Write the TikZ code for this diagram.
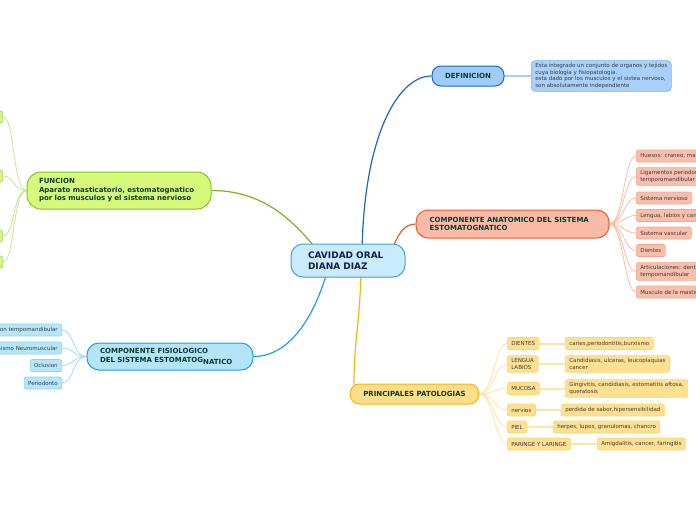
\documentclass[tikz,border=0pt]{standalone}
\usepackage{fontspec}
\setmainfont{DejaVu Sans}
\usetikzlibrary{positioning,backgrounds}
\definecolor{cavFill}{HTML}{C9EBFB}
\definecolor{cavLine}{HTML}{3FA3DC}
\definecolor{cavText}{HTML}{10204A}
\definecolor{topicText}{HTML}{0C3B2E}
\definecolor{leafText}{HTML}{3B3B3B}
\definecolor{defFill}{HTML}{9FCBF8}
\definecolor{defLine}{HTML}{1F63C9}
\definecolor{defBoxFill}{HTML}{A9D0FA}
\definecolor{defBoxLine}{HTML}{7DB3EF}
\definecolor{defTwig}{HTML}{A9CDF5}
\definecolor{anatFill}{HTML}{F9BBA7}
\definecolor{anatLine}{HTML}{F15A24}
\definecolor{anatLeaf}{HTML}{F9BFAC}
\definecolor{anatLeafLine}{HTML}{F7A488}
\definecolor{anatTwig}{HTML}{FBBBA5}
\definecolor{patoFill}{HTML}{FFDE8A}
\definecolor{patoLine}{HTML}{F5B60A}
\definecolor{patoLeaf}{HTML}{FFE091}
\definecolor{patoLeafLine}{HTML}{FFD46B}
\definecolor{patoTwig}{HTML}{FFE3A0}
\definecolor{funcFill}{HTML}{D6F97C}
\definecolor{funcLine}{HTML}{88C21E}
\definecolor{funcLink}{HTML}{7DB51B}
\definecolor{funcLeaf}{HTML}{D3F486}
\definecolor{funcTwig}{HTML}{C6E58F}
\definecolor{fisioFill}{HTML}{B2E4FA}
\definecolor{fisioLine}{HTML}{1BA1E2}
\definecolor{fisioLeaf}{HTML}{B6E6FA}
\definecolor{fisioLeafLine}{HTML}{8ED3F2}
\definecolor{fisioTwig}{HTML}{9FD9F3}

\begin{document}
\begin{tikzpicture}[x=1pt,y=-1pt,
  topic/.style={draw,line width=1pt,align=left,text=topicText,
    font=\fontsize{7}{8.5}\selectfont\bfseries,inner ysep=0pt},
  leaf/.style={draw,line width=0.6pt,rounded corners=2pt,align=left,text=leafText,
    font=\fontsize{5.5}{6.5}\selectfont,inner xsep=4pt,inner ysep=3pt,minimum height=12pt},
  link/.style={line width=1.2pt},
  twig/.style={line width=0.8pt}]
  \useasboundingbox (0,0) rectangle (696,520);
  \clip (0,0) rectangle (696,520);
  \node[topic,draw=cavLine,fill=cavFill,rounded corners=12pt,text=cavText,
    font=\fontsize{9}{11}\selectfont\bfseries,text width=80pt,inner xsep=17pt,
    minimum height=33pt] (cav) at (348,260.5) {CAVIDAD ORAL\\DIANA DIAZ};
  \node[topic,draw=defLine,fill=defFill,rounded corners=9pt,inner xsep=13pt,
    minimum height=20pt] (defn) at (468,76) {DEFINICION};
  \node[leaf,draw=defBoxLine,fill=defBoxFill,rounded corners=4pt,anchor=west] (deftxt) at (531,76)
    {Esta integrado un conjunto de organos y tejidos\\cuya biologia y fisiopatologia.\\esta dado por los musculos y el sistea nervoso,\\son absolutamente independiente};
  \node[topic,draw=anatLine,fill=anatFill,rounded corners=12pt,text width=166pt,inner xsep=13.5pt,
    minimum height=28pt] (anat) at (512.5,224) {COMPONENTE ANATOMICO DEL SISTEMA\\ESTOMATOGNATICO};
  \node[topic,draw=patoLine,fill=patoFill,rounded corners=9pt,inner xsep=13pt,
    minimum height=20pt] (pato) at (414.5,394) {PRINCIPALES PATOLOGIAS};
  \node[topic,draw=funcLine,fill=funcFill,rounded corners=14pt,text width=160pt,inner xsep=12pt,
    minimum height=37pt] (func) at (119,190.5) {FUNCION\\Aparato masticatorio, estomatognatico\\por los musculos y el sistema nervioso};
  \node[topic,draw=fisioLine,fill=fisioFill,rounded corners=12pt,text width=140pt,inner xsep=13pt,
    minimum height=27pt] (fisio) at (170,356.5) {COMPONENTE FISIOLOGICO\\DEL SISTEMA ESTOMATOG\raisebox{-2pt}{NATICO}};

  \foreach \yy/\txt [count=\i] in {156/{Huesos: craneo, mandibula},
      176.5/{Ligamentos periodontales y\\temporomandibular},198/{Sistema nervioso},
      215.5/{Lengua, labios y carrillos},233/{Sistema vascular},250.5/{Dientes},
      271.5/{Articulaciones: dentoalveolar y\\ tempomandibular},292/{Musculo de la masticacion}}{
    \node[leaf,draw=anatLeafLine,fill=anatLeaf,anchor=west] (a\i) at (636,\yy) {\txt};
  }
  \foreach \yy/\txt [count=\i] in {343.5/DIENTES,364/{LENGUA\\LABIOS},388.5/MUCOSA,
      410/nervios,427/PIEL,444/{PARINGE Y LARINGE}}{
    \node[leaf,draw=patoLeafLine,fill=patoLeaf,anchor=west] (p\i) at (507,\yy) {\txt};
  }
  \foreach \xx/\yy/\txt [count=\i] in {565/343.5/{caries,periodontitis,burxismo},
      565/364/{Candidiasis, ulceras, leucoplaquias\\cancer},
      565/388.5/{Gingivitis, candidiasis, estomatitis aftosa,\\queratosis},
      561/410/{perdida de sabor,hipersensibilidad},553/427/{herpes, lupos, granulomas, chancro},
      597/444/{Amigdalitis, cancer, faringitis}}{
    \node[leaf,draw=patoLeafLine,fill=patoLeaf,anchor=west] (q\i) at (\xx,\yy) {\txt};
  }
  \foreach \yy/\txt [count=\i] in {330/{Articulacion tempomandibular},348/{Mecanismo Neuromuscular},
      365.5/Oclusion,383/Periodonto}{
    \node[leaf,draw=fisioLeafLine,fill=fisioLeaf,anchor=east] (s\i) at (62,\yy) {\txt};
  }
  \foreach \yy [count=\i] in {117,176,236,262}{
    \node[leaf,draw=funcLine!70,fill=funcLeaf,minimum width=30pt,anchor=east] (f\i) at (3,\yy) {};
  }

  \begin{scope}[on background layer]
    \draw[link,defLine] ([xshift=14pt]cav.center) .. controls +(0,-120) and +(-35,0) .. (defn.west);
    \draw[link,anatLine] ([xshift=40pt]cav.center) .. controls +(8,-22) and +(-14,0) .. (anat.west);
    \draw[link,patoLine] ([xshift=13pt]cav.center) .. controls +(0,60) and +(0,-60) .. ([xshift=4pt]pato.west);
    \draw[link,funcLink] (func.east) .. controls +(60,0) and +(-25,-30) .. ([xshift=-22pt]cav.center);
    \draw[link,fisioLine] (fisio.east) .. controls +(45,0) and +(-8,35) .. ([xshift=-18pt]cav.center);
    \draw[defTwig,line width=2pt] (defn.east) -- (deftxt.west);
    \foreach \i in {1,...,8}
      \draw[twig,anatTwig] (anat.east) .. controls +(14,0) and +(-12,0) .. (a\i.west);
    \foreach \i in {1,...,6}{
      \draw[twig,patoTwig] (pato.east) .. controls +(14,0) and +(-12,0) .. (p\i.west);
      \draw[patoTwig,line width=2pt] (p\i.east) -- (q\i.west);
    }
    \foreach \i in {1,...,4}{
      \draw[twig,fisioTwig] (fisio.west) .. controls +(-14,0) and +(12,0) .. (s\i.east);
      \draw[twig,funcTwig] (func.west) .. controls +(-14,0) and +(12,0) .. (f\i.east);
    }
  \end{scope}
\end{tikzpicture}
\end{document}
